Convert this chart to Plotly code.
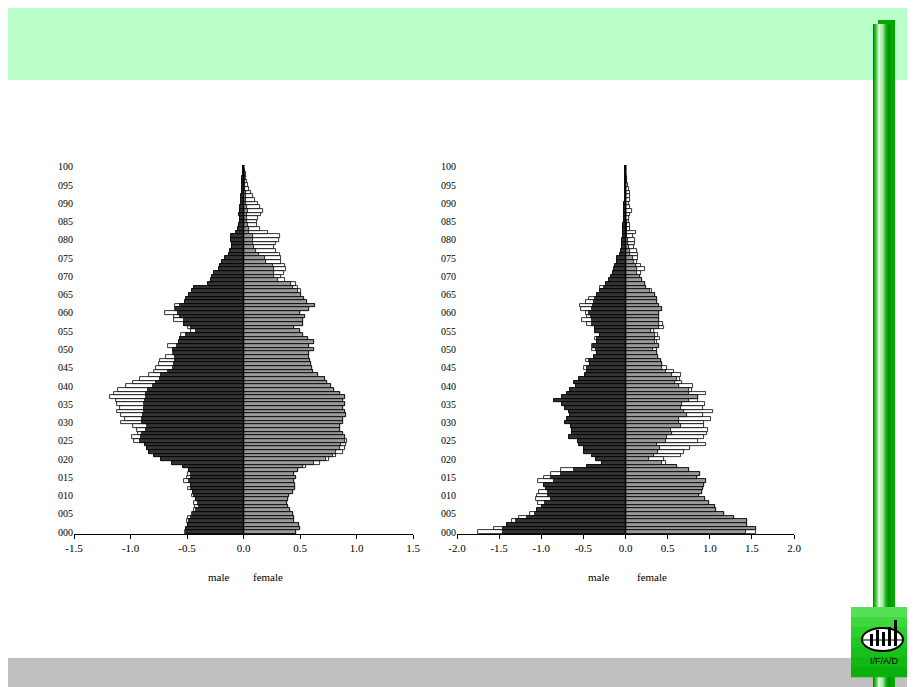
import plotly.graph_objects as go

# The page body has an 8px margin, so the figure is laid out 8px in from the window edge.
OFF = 8
W, H = 915 - OFF, 687 - OFF
ages = list(range(0, 101))
age_ticks = list(range(0, 101, 5))
age_labels = ["%03d" % a for a in age_ticks]

left_ticks = [-1.5, -1.0, -0.5, 0.0, 0.5, 1.0, 1.5]
left_labels = ["-1.5", "-1.0", "-0.5", "0.0", "0.5", "1.0", "1.5"]
right_ticks = [-2.0, -1.5, -1.0, -0.5, 0.0, 0.5, 1.0, 1.5, 2.0]
right_labels = ["-2.0", "-1.5", "-1.0", "-0.5", "0.0", "0.5", "1.0", "1.5", "2.0"]

# ---- left pyramid (ages 0..100) ----
left_male = [-0.507, -0.507, -0.493, -0.478, -0.463, -0.448, -0.419, -0.395, -0.404, -0.419,
             -0.440, -0.448, -0.469, -0.469, -0.478, -0.469, -0.469, -0.484, -0.537, -0.631,
             -0.729, -0.788, -0.832, -0.855, -0.876, -0.912, -0.906, -0.897, -0.867, -0.855,
             -0.897, -0.897, -0.891, -0.885, -0.885, -0.885, -0.876, -0.867, -0.861, -0.847,
             -0.802, -0.773, -0.743, -0.729, -0.670, -0.625, -0.611, -0.602, -0.602, -0.611,
             -0.625, -0.590, -0.572, -0.560, -0.507, -0.419, -0.463, -0.531, -0.531, -0.560,
             -0.581, -0.596, -0.560, -0.522, -0.513, -0.484, -0.454, -0.434, -0.313, -0.286,
             -0.277, -0.265, -0.218, -0.206, -0.189, -0.168, -0.130, -0.118, -0.100, -0.100,
             -0.109, -0.109, -0.065, -0.050, -0.041, -0.035, -0.035, -0.041, -0.035, -0.027,
             -0.021, -0.020, -0.018, -0.016, -0.015, -0.014, -0.012, -0.010, -0.008, -0.006,
             -0.005]
left_male_other = [-0.522, -0.507, -0.493, -0.501, -0.493, -0.454, -0.442, -0.425, -0.434, -0.419,
                   -0.454, -0.448, -0.493, -0.469, -0.531, -0.499, -0.493, -0.484, -0.537, -0.631,
                   -0.729, -0.788, -0.832, -0.855, -0.876, -0.973, -0.985, -0.935, -0.944, -0.979,
                   -1.083, -1.053, -1.083, -1.121, -1.097, -1.118, -1.127, -1.180, -1.142, -1.112,
                   -1.038, -0.979, -0.920, -0.838, -0.788, -0.773, -0.749, -0.743, -0.690, -0.625,
                   -0.625, -0.670, -0.572, -0.560, -0.552, -0.463, -0.493, -0.531, -0.611, -0.611,
                   -0.699, -0.602, -0.602, -0.522, -0.513, -0.484, -0.454, -0.434, -0.313, -0.286,
                   -0.277, -0.265, -0.218, -0.206, -0.189, -0.168, -0.130, -0.118, -0.100, -0.100,
                   -0.109, -0.109, -0.065, -0.050, -0.041, -0.035, -0.035, -0.041, -0.035, -0.027,
                   -0.021, -0.020, -0.018, -0.016, -0.015, -0.014, -0.012, -0.010, -0.008, -0.006,
                   -0.005]
left_female = [0.466, 0.496, 0.490, 0.451, 0.445, 0.437, 0.413, 0.392, 0.383, 0.392,
               0.407, 0.437, 0.460, 0.460, 0.451, 0.466, 0.451, 0.481, 0.525, 0.628,
               0.732, 0.791, 0.820, 0.850, 0.864, 0.894, 0.894, 0.879, 0.850, 0.850,
               0.879, 0.879, 0.909, 0.894, 0.879, 0.894, 0.879, 0.894, 0.850, 0.805,
               0.776, 0.737, 0.717, 0.658, 0.614, 0.608, 0.599, 0.590, 0.578, 0.578,
               0.628, 0.584, 0.628, 0.569, 0.525, 0.501, 0.451, 0.525, 0.525, 0.543,
               0.501, 0.578, 0.637, 0.560, 0.531, 0.510, 0.481, 0.437, 0.422, 0.304,
               0.274, 0.274, 0.274, 0.260, 0.201, 0.186, 0.136, 0.112, 0.097, 0.088,
               0.088, 0.083, 0.053, 0.045, 0.038, 0.029, 0.030, 0.035, 0.038, 0.028,
               0.024, 0.022, 0.020, 0.018, 0.016, 0.014, 0.012, 0.010, 0.009, 0.007,
               0.005]
left_female_other = [0.466, 0.496, 0.490, 0.451, 0.445, 0.437, 0.413, 0.392, 0.383, 0.392,
                     0.407, 0.437, 0.460, 0.460, 0.451, 0.466, 0.451, 0.481, 0.555, 0.673,
                     0.761, 0.820, 0.879, 0.894, 0.909, 0.914, 0.894, 0.879, 0.850, 0.850,
                     0.879, 0.879, 0.909, 0.894, 0.879, 0.894, 0.879, 0.894, 0.850, 0.805,
                     0.776, 0.737, 0.717, 0.658, 0.614, 0.608, 0.599, 0.590, 0.578, 0.578,
                     0.628, 0.584, 0.628, 0.569, 0.525, 0.501, 0.451, 0.525, 0.525, 0.543,
                     0.501, 0.578, 0.637, 0.560, 0.531, 0.510, 0.510, 0.481, 0.466, 0.363,
                     0.333, 0.354, 0.372, 0.363, 0.333, 0.333, 0.319, 0.289, 0.274, 0.289,
                     0.313, 0.319, 0.215, 0.142, 0.118, 0.118, 0.127, 0.156, 0.171, 0.142,
                     0.127, 0.106, 0.083, 0.068, 0.053, 0.038, 0.030, 0.024, 0.020, 0.012,
                     0.006]

# ---- right pyramid (ages 0..100) ----
right_male = [-1.452, -1.452, -1.405, -1.294, -1.175, -1.080, -1.048, -0.989, -0.950, -0.890,
              -0.922, -0.922, -0.938, -0.969, -0.851, -0.890, -0.764, -0.613, -0.455, -0.277,
              -0.356, -0.396, -0.487, -0.495, -0.554, -0.566, -0.673, -0.633, -0.633, -0.645,
              -0.724, -0.700, -0.653, -0.673, -0.724, -0.752, -0.851, -0.752, -0.692, -0.653,
              -0.593, -0.613, -0.554, -0.475, -0.455, -0.455, -0.423, -0.435, -0.376, -0.336,
              -0.356, -0.384, -0.336, -0.336, -0.305, -0.368, -0.368, -0.396, -0.396, -0.408,
              -0.431, -0.396, -0.384, -0.376, -0.368, -0.336, -0.297, -0.257, -0.226, -0.198,
              -0.170, -0.146, -0.138, -0.119, -0.099, -0.099, -0.067, -0.059, -0.047, -0.040,
              -0.040, -0.028, -0.028, -0.025, -0.024, -0.020, -0.018, -0.016, -0.015, -0.013,
              -0.012, -0.010, -0.009, -0.008, -0.007, -0.006, -0.005, -0.004, -0.003, -0.002,
              -0.002]
right_male_other = [-1.753, -1.555, -1.405, -1.345, -1.266, -1.128, -1.048, -0.989, -1.041, -1.068,
                    -1.048, -1.029, -0.938, -0.969, -1.041, -0.969, -0.890, -0.764, -0.455, -0.277,
                    -0.356, -0.396, -0.487, -0.495, -0.554, -0.566, -0.673, -0.633, -0.633, -0.645,
                    -0.724, -0.700, -0.653, -0.673, -0.724, -0.752, -0.851, -0.752, -0.692, -0.653,
                    -0.593, -0.613, -0.554, -0.475, -0.455, -0.487, -0.423, -0.463, -0.376, -0.336,
                    -0.396, -0.396, -0.336, -0.368, -0.305, -0.368, -0.368, -0.455, -0.514, -0.455,
                    -0.463, -0.534, -0.542, -0.463, -0.435, -0.336, -0.297, -0.305, -0.226, -0.198,
                    -0.170, -0.146, -0.138, -0.119, -0.099, -0.099, -0.067, -0.059, -0.047, -0.040,
                    -0.040, -0.028, -0.028, -0.025, -0.024, -0.020, -0.018, -0.016, -0.015, -0.013,
                    -0.012, -0.010, -0.009, -0.008, -0.007, -0.006, -0.005, -0.004, -0.003, -0.002,
                    -0.002]
right_female = [1.436, 1.543, 1.444, 1.444, 1.286, 1.175, 1.080, 1.068, 0.989, 0.938,
                0.870, 0.910, 0.922, 0.930, 0.961, 0.843, 0.890, 0.752, 0.613, 0.435,
                0.277, 0.336, 0.384, 0.408, 0.376, 0.475, 0.487, 0.546, 0.542, 0.653,
                0.633, 0.633, 0.724, 0.692, 0.653, 0.673, 0.752, 0.859, 0.752, 0.752,
                0.633, 0.593, 0.613, 0.554, 0.475, 0.435, 0.435, 0.423, 0.384, 0.376,
                0.328, 0.396, 0.356, 0.356, 0.356, 0.297, 0.396, 0.396, 0.396, 0.396,
                0.396, 0.435, 0.396, 0.376, 0.368, 0.356, 0.289, 0.249, 0.226, 0.198,
                0.170, 0.138, 0.131, 0.119, 0.099, 0.091, 0.059, 0.051, 0.040, 0.032,
                0.028, 0.020, 0.020, 0.016, 0.012, 0.012, 0.010, 0.009, 0.008, 0.008,
                0.007, 0.006, 0.005, 0.005, 0.004, 0.004, 0.003, 0.003, 0.002, 0.002,
                0.002]
right_female_other = [1.543, 1.543, 1.444, 1.444, 1.286, 1.175, 1.080, 1.068, 0.989, 0.938,
                      0.870, 0.910, 0.922, 0.930, 0.961, 0.843, 0.890, 0.752, 0.613, 0.475,
                      0.455, 0.653, 0.700, 0.764, 0.950, 0.859, 0.930, 0.969, 0.977, 0.930,
                      0.930, 1.009, 0.922, 1.041, 0.922, 0.938, 0.859, 0.859, 0.950, 0.791,
                      0.803, 0.673, 0.645, 0.653, 0.574, 0.487, 0.435, 0.423, 0.384, 0.376,
                      0.376, 0.396, 0.376, 0.408, 0.384, 0.336, 0.455, 0.447, 0.396, 0.396,
                      0.396, 0.435, 0.396, 0.376, 0.368, 0.356, 0.320, 0.249, 0.226, 0.198,
                      0.170, 0.186, 0.226, 0.178, 0.138, 0.146, 0.146, 0.138, 0.099, 0.107,
                      0.107, 0.091, 0.119, 0.059, 0.051, 0.040, 0.040, 0.059, 0.079, 0.059,
                      0.040, 0.051, 0.059, 0.051, 0.040, 0.030, 0.020, 0.015, 0.010, 0.006,
                      0.004]

MALE_COLOR = "#333333"
FEMALE_COLOR = "#999999"
FONT = "Liberation Serif"


def px(x):
    # window pixel -> paper fraction
    return (x - OFF) / W


def py(y):
    return 1 - (y - OFF) / H


fig = go.Figure()


def add_bars(values, color, xa, ya):
    fig.add_trace(go.Bar(
        x=values, y=ages, orientation="h", width=1.0,
        marker=dict(color=color, line=dict(color="black", width=0.8)),
        opacity=1, xaxis=xa, yaxis=ya, showlegend=False, hoverinfo="x+y"))


add_bars(left_male_other, "white", "x", "y")
add_bars(left_female_other, "white", "x", "y")
add_bars(left_male, MALE_COLOR, "x", "y")
add_bars(left_female, FEMALE_COLOR, "x", "y")
add_bars(right_male_other, "white", "x2", "y2")
add_bars(right_female_other, "white", "x2", "y2")
add_bars(right_male, MALE_COLOR, "x2", "y2")
add_bars(right_female, FEMALE_COLOR, "x2", "y2")

xcommon = dict(showline=True, linecolor="black", linewidth=1, ticks="outside", ticklen=4,
               tickcolor="black", showgrid=False, zeroline=False, automargin=False,
               tickfont=dict(family=FONT, size=11, color="black"))
ycommon = dict(range=[-0.5, 100.5], tickmode="array", tickvals=age_ticks, ticktext=age_labels,
               showgrid=False, zeroline=False, showline=False, ticks="", automargin=False,
               tickfont=dict(family=FONT, size=10, color="black"),
               domain=[py(534), py(165)])

shapes = []
# top banner
shapes.append(dict(type="rect", xref="paper", yref="paper", x0=px(5), x1=px(918), y0=py(80), y1=py(5),
                   fillcolor="#BAFFC9", line=dict(width=0), layer="below"))
# bottom band
shapes.append(dict(type="rect", xref="paper", yref="paper", x0=px(5), x1=px(918), y0=py(690), y1=py(658),
                   fillcolor="#C0C0C0", line=dict(width=0), layer="below"))
# pole shadow
shapes.append(dict(type="rect", xref="paper", yref="paper", x0=px(878), x1=px(895), y0=py(690), y1=py(20),
                   fillcolor="#00A800", line=dict(width=0), layer="above"))
# pole gradient
pole_cols = ["#008C00", "#00A800", "#33C033", "#88DD88", "#CCF5CC", "#F0FFF0", "#E0FAE0",
             "#B8EEB8", "#88DD88", "#55CC55", "#33BB33", "#11AA11", "#009900", "#008800"]
x0p = 873.0
sw = 17.0 / len(pole_cols)
for i, c in enumerate(pole_cols):
    shapes.append(dict(type="rect", xref="paper", yref="paper", x0=px(x0p + i * sw), x1=px(x0p + (i + 1) * sw + 0.3),
                       y0=py(690), y1=py(24), fillcolor=c, line=dict(width=0), layer="above"))
# logo box
logo_cols = ["#55E055", "#3DD83D", "#2ED02E", "#22C822", "#19C019", "#12B812", "#0CB00C"]
lh = 70.0 / len(logo_cols)
for i, c in enumerate(logo_cols):
    shapes.append(dict(type="rect", xref="paper", yref="paper", x0=px(851), x1=px(918),
                       y0=py(607 + (i + 1) * lh + 0.3), y1=py(607 + i * lh), fillcolor=c,
                       line=dict(width=0), layer="above"))
shapes.append(dict(type="circle", xref="paper", yref="paper", x0=px(862), x1=px(903), y0=py(651), y1=py(628),
                   fillcolor="white", line=dict(color="black", width=2), layer="above"))
for (bx0, bx1, by0) in [(870, 873, 634), (876, 879, 630), (882, 885, 632), (888, 891, 627), (894, 897, 620)]:
    shapes.append(dict(type="rect", xref="paper", yref="paper", x0=px(bx0), x1=px(bx1), y0=py(646), y1=py(by0),
                       fillcolor="black", line=dict(width=0), layer="above"))
shapes.append(dict(type="line", xref="paper", yref="paper", x0=px(863), x1=px(902), y0=py(640), y1=py(640),
                   line=dict(color="black", width=1), layer="above"))
# zero lines
shapes.append(dict(type="line", xref="x", yref="y", x0=0, x1=0, y0=-0.5, y1=100.5,
                   line=dict(color="black", width=1.5), layer="above"))
shapes.append(dict(type="line", xref="x2", yref="y2", x0=0, x1=0, y0=-0.5, y1=100.5,
                   line=dict(color="black", width=1.5), layer="above"))

annotations = []
for (xc, txt) in [(218, "male"), (268, "female"), (598, "male"), (652, "female")]:
    annotations.append(dict(xref="paper", yref="paper", x=px(xc), y=py(577), text=txt, showarrow=False,
                            xanchor="center", yanchor="middle", font=dict(family=FONT, size=11, color="black")))
annotations.append(dict(xref="paper", yref="paper", x=px(884), y=py(661), text="I/F/A/D", showarrow=False,
                        xanchor="center", yanchor="middle", font=dict(family="Liberation Sans", size=9, color="black")))

fig.update_layout(
    width=W, height=H, margin=dict(l=0, r=0, t=0, b=0, pad=0), autosize=False,
    paper_bgcolor="white", plot_bgcolor="rgba(0,0,0,0)",
    barmode="overlay", bargap=0, showlegend=False,
    xaxis=dict(domain=[px(74), px(413)], range=[-1.5, 1.5], tickmode="array",
               tickvals=left_ticks, ticktext=left_labels, anchor="y", **xcommon),
    yaxis=dict(anchor="x", **ycommon),
    xaxis2=dict(domain=[px(457), px(794)], range=[-2.0, 2.0], tickmode="array",
                tickvals=right_ticks, ticktext=right_labels, anchor="y2", **xcommon),
    yaxis2=dict(anchor="x2", **ycommon),
    shapes=shapes, annotations=annotations,
)

fig.write_html("out.html")
